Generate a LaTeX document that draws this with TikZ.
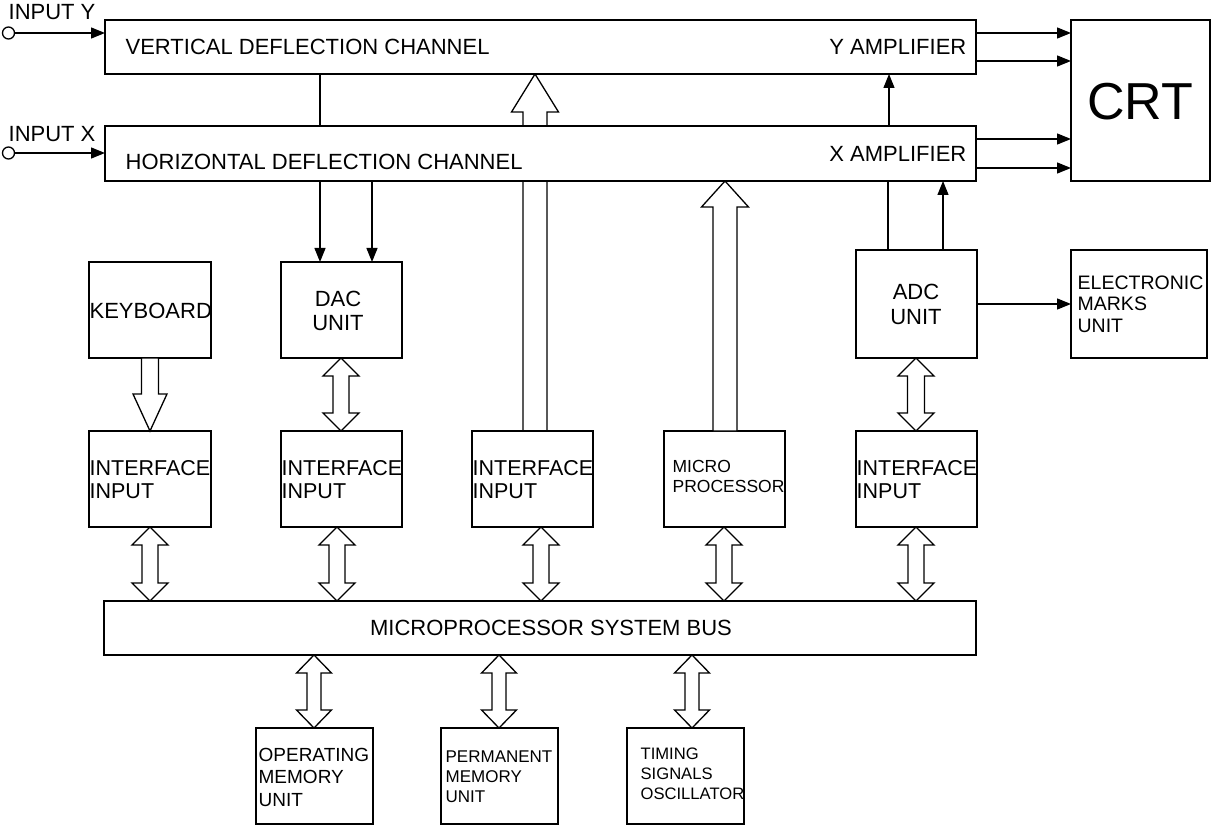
\documentclass[tikz,border=0pt]{standalone}
\usepackage{fontspec}
\setmainfont{Liberation Sans}
\usetikzlibrary{arrows.meta,calc}
\pgfdeclarelayer{bg}
\pgfsetlayers{bg,main}
\newcommand\DblArrow[5]{%
  \draw[hollow] let \p1=(#1), \p2=(#2) in
    (\x1,\y1) -- (\x1+#4pt,\y1-#5pt) -- (\x1+#3pt,\y1-#5pt) -- (\x1+#3pt,\y2+#5pt)
    -- (\x1+#4pt,\y2+#5pt) -- (\x1,\y2) -- (\x1-#4pt,\y2+#5pt) -- (\x1-#3pt,\y2+#5pt)
    -- (\x1-#3pt,\y1-#5pt) -- (\x1-#4pt,\y1-#5pt) -- cycle;}
\newcommand\UpArrow[5]{%
  \draw[hollow] let \p1=(#1), \p2=(#2) in
    (\x1,\y1) -- (\x1+#4pt,\y1-#5pt) -- (\x1+#3pt,\y1-#5pt) -- (\x1+#3pt,\y2)
    -- (\x1-#3pt,\y2) -- (\x1-#3pt,\y1-#5pt) -- (\x1-#4pt,\y1-#5pt) -- cycle;}
\newcommand\DownArrow[5]{%
  \draw[hollow] let \p1=(#1), \p2=(#2) in
    (\x1,\y1) -- (\x1+#4pt,\y1+#5pt) -- (\x1+#3pt,\y1+#5pt) -- (\x1+#3pt,\y2)
    -- (\x1-#3pt,\y2) -- (\x1-#3pt,\y1+#5pt) -- (\x1-#4pt,\y1+#5pt) -- cycle;}
\begin{document}
\begin{tikzpicture}[x=1pt,y=-1pt,
  line width=1.3pt, line join=miter,
  box/.style={draw, fill=white, inner sep=0pt, outer sep=0pt, anchor=north west},
  lbl/.style={inner sep=0pt, font=\fontsize{22}{24}\selectfont},
  arr/.style={-{Triangle[length=14pt,width=11pt]}},
  hollow/.style={draw, fill=white, line width=1.3pt}]
\useasboundingbox (0,0) rectangle (1212,826);
% boxes
\node[box, minimum width=871pt, minimum height=54pt] (vdc) at (105,20) {};
\node[box, minimum width=871pt, minimum height=55pt] (hdc) at (105,126) {};
\node[box, minimum width=139pt, minimum height=161pt] (crt) at (1071,20) {};
\node[box, minimum width=122pt, minimum height=96pt] (kb) at (89,262) {};
\node[box, minimum width=121pt, minimum height=96pt] (dac) at (281,262) {};
\node[box, minimum width=121pt, minimum height=108pt] (adc) at (856,250) {};
\node[box, minimum width=136pt, minimum height=108pt] (emu) at (1071,250) {};
\node[box, minimum width=122pt, minimum height=96pt] (if1) at (89,431) {};
\node[box, minimum width=121pt, minimum height=96pt] (if2) at (281,431) {};
\node[box, minimum width=121pt, minimum height=96pt] (if3) at (472,431) {};
\node[box, minimum width=121pt, minimum height=96pt] (mp) at (664,431) {};
\node[box, minimum width=121pt, minimum height=96pt] (if5) at (856,431) {};
\node[box, minimum width=872pt, minimum height=54pt] (bus) at (104,601) {};
\node[box, minimum width=117pt, minimum height=96pt] (om) at (256,728) {};
\node[box, minimum width=117pt, minimum height=96pt] (pm) at (441,728) {};
\node[box, minimum width=117pt, minimum height=96pt] (ts) at (627,728) {};
% input terminals
\node[circle, draw, fill=white, minimum size=12pt, inner sep=0pt] (cy) at (8.5,33) {};
\node[circle, draw, fill=white, minimum size=12pt, inner sep=0pt] (cx) at (8.5,153) {};
% labels
\node[lbl, anchor=base west] (tiny) at (8,20) {INPUT Y};
\node[lbl, anchor=base west] (tinx) at (8,142) {INPUT X};
\node[lbl, anchor=base west] (tvdc) at (125,55) {VERTICAL DEFLECTION CHANNEL};
\node[lbl, anchor=base east] (tya) at (967,55) {Y AMPLIFIER};
\node[lbl, anchor=base west] (thdc) at (125,170) {HORIZONTAL DEFLECTION CHANNEL};
\node[lbl, anchor=base east] (txa) at (967,162) {X AMPLIFIER};
\node[lbl, font=\fontsize{52}{56}\selectfont, anchor=base] (tcrt) at (1140,120) {CRT};
\node[lbl, anchor=base west] (tkb) at (89,318) {KEYBOARD};
\node[lbl, align=center] (tdac) at (338,311) {DAC\\UNIT};
\node[lbl, align=center, font=\fontsize{22}{24.5}\selectfont] (tadc) at (916,304.5) {ADC\\UNIT};
\node[lbl, align=left, anchor=west, font=\fontsize{21.5}{23}\selectfont] (tif1) at (89,479.5) {INTERFACE\\INPUT};
\node[lbl, align=left, anchor=west, font=\fontsize{21.5}{23}\selectfont] (tif2) at (281,479.5) {INTERFACE\\INPUT};
\node[lbl, align=left, anchor=west, font=\fontsize{21.5}{23}\selectfont] (tif3) at (472,479.5) {INTERFACE\\INPUT};
\node[lbl, align=left, anchor=west, font=\fontsize{17.5}{20}\selectfont] (tmp) at (672,476.5) {MICRO\\PROCESSOR};
\node[lbl, align=left, anchor=west, font=\fontsize{21.5}{23}\selectfont] (tif5) at (856,479.5) {INTERFACE\\INPUT};
\node[lbl, align=left, anchor=west, font=\fontsize{19.5}{21.5}\selectfont] (temu) at (1077,304) {ELECTRONIC\\MARKS\\UNIT};
\node[lbl, anchor=base] (tbus) at (551,635) {MICROPROCESSOR SYSTEM BUS};
\node[lbl, align=left, anchor=west, font=\fontsize{19}{22.5}\selectfont] (tom) at (258,777) {OPERATING\\MEMORY\\UNIT};
\node[lbl, align=left, anchor=west, font=\fontsize{17}{20}\selectfont] (tpm) at (445,776.5) {PERMANENT\\MEMORY\\UNIT};
\node[lbl, align=left, anchor=west, font=\fontsize{16.6}{20}\selectfont] (tts) at (640,774) {TIMING\\SIGNALS\\OSCILLATOR};
% thin connectors
\draw[arr] (cy.east) -- (cy.east -| vdc.west);
\draw[arr] (cx.east) -- (cx.east -| hdc.west);
\draw[arr] ([yshift=-13pt]vdc.north east) -- ([yshift=-13pt]vdc.north east -| crt.west);
\draw[arr] ([yshift=13pt]vdc.south east) -- ([yshift=13pt]vdc.south east -| crt.west);
\draw[arr] ([yshift=-13pt]hdc.north east) -- ([yshift=-13pt]hdc.north east -| crt.west);
\draw[arr] ([yshift=13pt]hdc.south east) -- ([yshift=13pt]hdc.south east -| crt.west);
\draw (320,0 |- vdc.south) -- (320,0 |- hdc.north);
\draw[arr] (889,0 |- hdc.north) -- (889,0 |- vdc.south);
\draw[arr] (320,0 |- hdc.south) -- (320,0 |- dac.north);
\draw[arr] (372,0 |- hdc.south) -- (372,0 |- dac.north);
\draw (888,0 |- adc.north) -- (888,0 |- hdc.south);
\draw[arr] (943,0 |- adc.north) -- (943,0 |- hdc.south);
\draw[arr] (adc.east) -- (emu.west);
% hollow bus arrows
\begin{pgfonlayer}{bg}
\UpArrow{535,0 |- vdc.south}{535,0 |- if3.north}{12}{23.5}{38}
\end{pgfonlayer}
\UpArrow{725,0 |- hdc.south}{725,0 |- mp.north}{12}{23.5}{26}
\DownArrow{kb.south |- if1.north}{kb.south}{8.5}{17}{37}
\DblArrow{341,0 |- dac.south}{341,0 |- if2.north}{8}{18}{18}
\DblArrow{916,0 |- adc.south}{916,0 |- if5.north}{8.5}{18}{18}
\DblArrow{150,0 |- if1.south}{150,0 |- bus.north}{8}{18}{18}
\DblArrow{337,0 |- if2.south}{337,0 |- bus.north}{8}{18}{18}
\DblArrow{541,0 |- if3.south}{541,0 |- bus.north}{8}{18}{18}
\DblArrow{724,0 |- mp.south}{724,0 |- bus.north}{8}{18}{18}
\DblArrow{916,0 |- if5.south}{916,0 |- bus.north}{8}{18}{18}
\DblArrow{314,0 |- bus.south}{314,0 |- om.north}{7}{17.5}{18}
\DblArrow{499,0 |- bus.south}{499,0 |- pm.north}{7}{17.5}{18}
\DblArrow{692,0 |- bus.south}{692,0 |- ts.north}{7}{17.5}{18}
\end{tikzpicture}
\end{document}
